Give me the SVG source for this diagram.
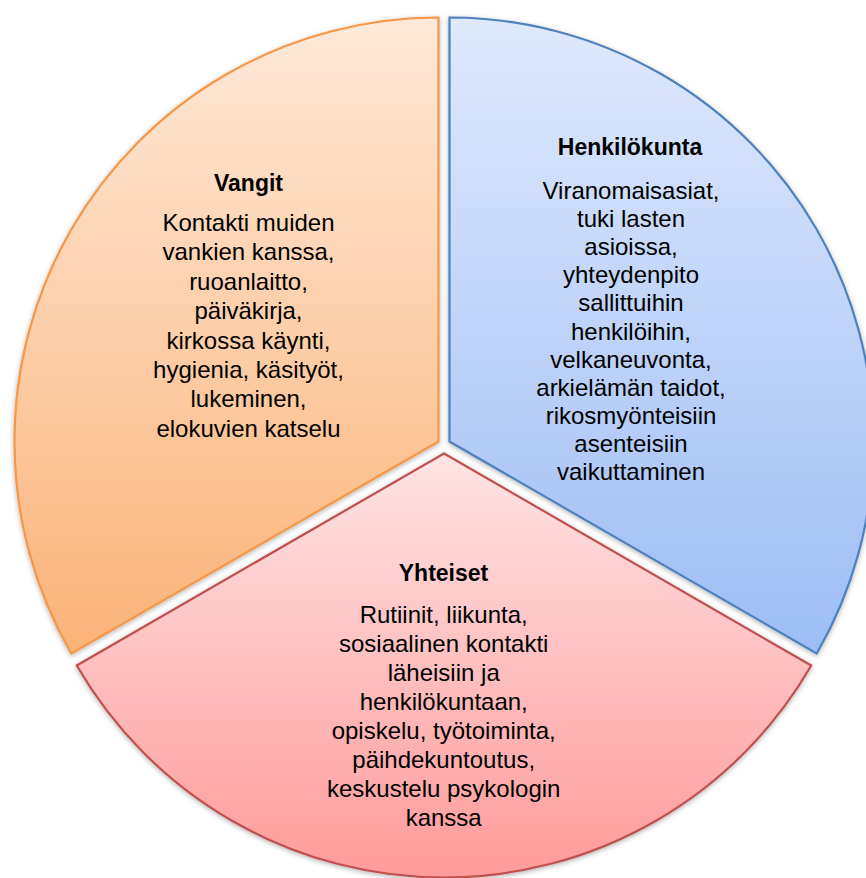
<svg xmlns="http://www.w3.org/2000/svg" width="866" height="878" viewBox="0 0 866 878">
  <defs>
    <linearGradient id="gOrange" x1="0" y1="0" x2="0" y2="1">
      <stop offset="0" stop-color="#fee9d9"/>
      <stop offset="1" stop-color="#fbb378"/>
    </linearGradient>
    <linearGradient id="gBlue" x1="0" y1="0" x2="0" y2="1">
      <stop offset="0" stop-color="#dfe9fc"/>
      <stop offset="1" stop-color="#9dbdf5"/>
    </linearGradient>
    <linearGradient id="gRed" x1="0" y1="0" x2="0" y2="1">
      <stop offset="0" stop-color="#ffe4e4"/>
      <stop offset="1" stop-color="#ff9a9a"/>
    </linearGradient>
    <filter id="shadow" x="-10%" y="-10%" width="120%" height="120%">
      <feDropShadow dx="0" dy="1.5" stdDeviation="2.5" flood-color="#000" flood-opacity="0.3"/>
    </filter>
  </defs>
  <style>
    .seg { stroke-width: 2.2; stroke-linejoin: miter; filter: url(#shadow); }
    .title { font-family: "Liberation Sans", Arial, sans-serif; font-weight: bold; font-size: 23px; fill: #000; text-anchor: middle; }
    .body { font-family: "Liberation Sans", Arial, sans-serif; font-size: 24px; fill: #000; text-anchor: middle; }
  </style>
  <rect x="0" y="0" width="866" height="878" fill="#ffffff"/>

  <g id="vangit">
    <path class="seg" d="M438.5,441.5 L438.5,17.5 A424,424 0 0 0 71.3,653.5 Z" fill="url(#gOrange)" stroke="#f79646"/>
    <text class="title" x="248.5" y="191">Vangit</text>
    <text class="body" x="248.5" y="231">Kontakti muiden</text>
    <text class="body" x="248.5" y="260.4">vankien kanssa,</text>
    <text class="body" x="248.5" y="289.8">ruoanlaitto,</text>
    <text class="body" x="248.5" y="319.2">päiväkirja,</text>
    <text class="body" x="248.5" y="348.6">kirkossa käynti,</text>
    <text class="body" x="248.5" y="378">hygienia, käsityöt,</text>
    <text class="body" x="248.5" y="407.4">lukeminen,</text>
    <text class="body" x="248.5" y="436.8">elokuvien katselu</text>
  </g>

  <g id="henkilokunta">
    <path class="seg" d="M449.5,441.5 L449.5,17.5 A424,424 0 0 1 816.7,653.5 Z" fill="url(#gBlue)" stroke="#4f81bd"/>
    <text class="title" x="630" y="155">Henkilökunta</text>
    <text class="body" x="631" y="199">Viranomaisasiat,</text>
    <text class="body" x="631" y="227.1">tuki lasten</text>
    <text class="body" x="631" y="255.2">asioissa,</text>
    <text class="body" x="631" y="283.3">yhteydenpito</text>
    <text class="body" x="631" y="311.4">sallittuihin</text>
    <text class="body" x="631" y="339.5">henkilöihin,</text>
    <text class="body" x="631" y="367.6">velkaneuvonta,</text>
    <text class="body" x="631" y="395.7">arkielämän taidot,</text>
    <text class="body" x="631" y="423.8">rikosmyönteisiin</text>
    <text class="body" x="631" y="451.9">asenteisiin</text>
    <text class="body" x="631" y="480">vaikuttaminen</text>
  </g>

  <g id="yhteiset">
    <path class="seg" d="M444,453.5 L811.2,665.5 A424,424 0 0 1 76.8,665.5 Z" fill="url(#gRed)" stroke="#c0504d"/>
    <text class="title" x="443.5" y="580.7">Yhteiset</text>
    <text class="body" x="443.7" y="622.7">Rutiinit, liikunta,</text>
    <text class="body" x="443.7" y="651.8">sosiaalinen kontakti</text>
    <text class="body" x="443.7" y="680.9">läheisiin ja</text>
    <text class="body" x="443.7" y="710">henkilökuntaan,</text>
    <text class="body" x="443.7" y="739.1">opiskelu, työtoiminta,</text>
    <text class="body" x="443.7" y="768.2">päihdekuntoutus,</text>
    <text class="body" x="443.7" y="797.3">keskustelu psykologin</text>
    <text class="body" x="443.7" y="826.4">kanssa</text>
  </g>

  <g id="connectors"></g>
</svg>
